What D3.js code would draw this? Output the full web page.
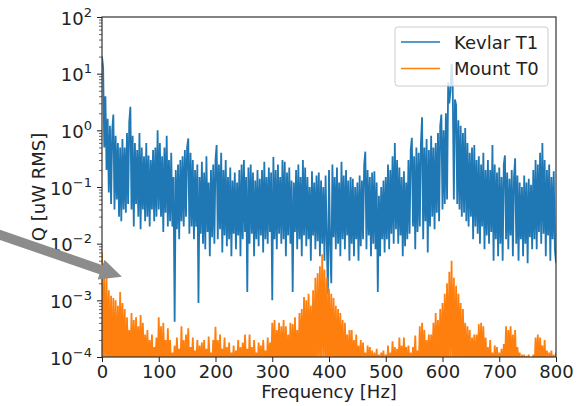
<!DOCTYPE html>
<html>
<head>
<meta charset="utf-8">
<script src="https://cdn.jsdelivr.net/npm/d3@7"></script>
<style>
  body { margin: 0; background: #fff; }
  text { font-family: "DejaVu Sans", sans-serif; fill: #222; }
</style>
</head>
<body>
<div id="chart"></div>
<script type="text/javascript">

      // spectrum samples, one every freqStep Hz starting at 0 Hz (one row = 20 Hz)
      var freqStep = 2;

      var kevlarT1 = [
        20, 13, 0.5, 4, 0.2, 1.6, 0.08, 1.2, 0.05, 1.0,
        1.9, 0.04, 0.8, 0.06, 0.6, 0.03, 0.5, 0.025, 0.7, 0.04,
        0.5, 0.035, 0.9, 0.05, 1.4, 2.6, 0.04, 0.8, 0.02, 0.6,
        0.05, 0.45, 0.03, 0.9, 0.018, 0.5, 0.04, 0.35, 0.025, 0.6,
        0.03, 0.36, 0.02, 0.3, 0.04, 0.45, 0.025, 0.5, 0.03, 1.0,
        0.04, 0.6, 0.03, 0.35, 0.016, 0.5, 0.035, 0.8, 0.02, 0.3,
        0.025, 0.4, 0.02, 0.15, 0.00042, 0.2, 0.018, 0.25, 0.012, 0.3,
        0.025, 0.35, 0.02, 0.45, 0.03, 0.5, 0.72, 0.015, 0.4, 0.02,
        0.3, 0.012, 0.2, 0.02, 0.25, 0.0009, 0.15, 0.015, 0.28, 0.01,
        0.18, 0.008, 0.35, 0.016, 0.12, 0.006, 0.2, 0.013, 0.25, 0.01,
        0.3, 0.55, 0.012, 0.25, 0.018, 0.4, 0.007, 0.2, 0.014, 0.3,
        0.009, 0.15, 0.012, 0.22, 0.006, 0.13, 0.015, 0.18, 0.008, 0.12,
        0.014, 0.2, 0.006, 0.25, 0.012, 0.3, 0.016, 0.15, 0.0014, 0.22,
        0.01, 0.25, 0.015, 0.18, 0.006, 0.13, 0.012, 0.2, 0.009, 0.14,
        0.014, 0.2, 0.007, 0.28, 0.012, 0.15, 0.01, 0.22, 0.016, 0.18,
        0.001, 0.34, 0.012, 0.2, 0.008, 0.25, 0.015, 0.15, 0.01, 0.3,
        0.012, 0.28, 0.006, 0.18, 0.014, 0.22, 0.01, 0.13, 0.0014, 0.12,
        0.016, 0.2, 0.008, 0.25, 0.012, 0.15, 0.006, 0.3, 0.014, 0.22,
        0.009, 0.15, 0.012, 0.1, 0.005, 0.19, 0.014, 0.12, 0.008, 0.16,
        0.011, 0.18, 0.006, 0.13, 0.01, 0.1, 0.005, 0.16, 0.012, 0.0013,
        0.2, 0.01, 0.002, 0.25, 0.013, 0.15, 0.008, 0.22, 0.01, 0.12,
        0.006, 0.28, 0.012, 0.16, 0.008, 0.2, 0.014, 0.13, 0.005, 0.15,
        0.01, 0.14, 0.006, 0.1, 0.012, 0.12, 0.005, 0.16, 0.009, 0.13,
        0.012, 0.25, 0.42, 0.008, 0.2, 0.014, 0.15, 0.006, 0.18, 0.01,
        0.19, 0.008, 0.12, 0.0014, 0.07, 0.006, 0.1, 0.012, 0.13, 0.007,
        0.15, 0.012, 0.25, 0.008, 0.2, 0.015, 0.35, 0.01, 0.6, 0.018,
        0.3, 0.01, 0.22, 0.014, 0.15, 0.006, 0.19, 0.009, 0.12, 0.012,
        0.3, 0.015, 0.45, 0.74, 0.02, 0.35, 0.008, 0.5, 0.016, 0.4,
        0.02, 0.6, 1.7, 0.012, 0.5, 0.025, 0.7, 0.007, 0.45, 0.02,
        0.8, 0.03, 0.5, 0.018, 0.6, 0.035, 0.9, 0.025, 1.2, 1.9,
        0.04, 1.0, 0.05, 2.0, 0.06, 7, 3, 5, 15, 6,
        0.06, 3.5, 2.8, 0.05, 1.5, 0.04, 1.2, 0.03, 0.9, 0.035,
        1.1, 0.025, 0.6, 0.02, 0.4, 0.03, 0.5, 0.012, 0.55, 0.02,
        0.3, 0.015, 0.35, 0.01, 0.25, 0.02, 0.4, 0.008, 0.2, 0.014,
        0.3, 0.01, 0.2, 0.016, 0.55, 0.005, 0.25, 0.012, 0.18, 0.006,
        0.22, 0.01, 0.15, 0.005, 0.25, 0.36, 0.012, 0.18, 0.008, 0.14,
        0.014, 0.2, 0.006, 0.15, 0.32, 0.01, 0.16, 0.005, 0.12, 0.012,
        0.1, 0.006, 0.16, 0.01, 0.12, 0.0045, 0.14, 0.013, 0.11, 0.008,
        0.2, 0.012, 0.3, 0.008, 0.25, 0.016, 0.4, 0.01, 0.6, 0.015,
        0.3, 0.006, 0.2, 0.014, 0.25, 0.005, 0.15, 0.012, 0.19, 0.008,
        0.0046
      ];

      var mountT0 = [
        7e-3, 5e-5, 3e-3, 6e-5, 2.5e-3, 5e-5, 1.5e-3, 7e-5, 1.2e-3, 5e-5,
        1.1e-3, 6e-5, 1e-3, 5e-5, 8e-4, 7e-5, 1.4e-3, 5e-5, 9e-4, 6e-5,
        7e-4, 5e-5, 5e-4, 8e-5, 3e-4, 5e-5, 6e-4, 6e-5, 4.5e-4, 5e-5,
        5e-4, 7e-5, 3.5e-4, 5e-5, 5.5e-4, 6e-5, 4e-4, 5e-5, 2.5e-4, 7e-5,
        3e-4, 5e-5, 2e-4, 6e-5, 2.5e-4, 5e-5, 1.5e-4, 8e-5, 2.2e-4, 5e-5,
        5e-4, 6e-5, 3.5e-4, 5e-5, 4e-4, 7e-5, 2e-4, 5e-5, 3.2e-4, 6e-5,
        2e-4, 5e-5, 1.2e-4, 7e-5, 1.6e-4, 5e-5, 2.2e-4, 6e-5, 1.4e-4, 5e-5,
        3.5e-4, 6e-5, 2e-4, 5e-5, 2.5e-4, 8e-5, 3.2e-4, 5e-5, 1.5e-4, 6e-5,
        2.2e-4, 5e-5, 1.3e-4, 7e-5, 2e-4, 5e-5, 1.6e-4, 6e-5, 1.8e-4, 5e-5,
        2e-4, 6e-5, 1.4e-4, 5e-5, 2.3e-4, 7e-5, 1.2e-4, 5e-5, 2e-4, 6e-5,
        3.4e-4, 5e-5, 2e-4, 6e-5, 2.5e-4, 5e-5, 1.4e-4, 8e-5, 2.2e-4, 5e-5,
        1.5e-4, 6e-5, 1.8e-4, 5e-5, 1.2e-4, 7e-5, 1.6e-4, 5e-5, 1.3e-4, 6e-5,
        2e-4, 5e-5, 1.5e-4, 6e-5, 1.8e-4, 5e-5, 2.5e-4, 7e-5, 1.4e-4, 5e-5,
        2.5e-4, 6e-5, 1.5e-4, 5e-5, 2e-4, 8e-5, 1.2e-4, 5e-5, 1.8e-4, 6e-5,
        1.6e-4, 5e-5, 2e-4, 7e-5, 1.3e-4, 5e-5, 2.2e-4, 6e-5, 1.8e-4, 5e-5,
        4e-4, 6e-5, 4.5e-4, 5e-5, 3e-4, 8e-5, 4e-4, 5e-5, 3.5e-4, 6e-5,
        4.5e-4, 5e-5, 3.5e-4, 7e-5, 2.5e-4, 5e-5, 4e-4, 6e-5, 3.8e-4, 5e-5,
        5e-4, 6e-5, 3e-4, 5e-5, 6e-4, 8e-5, 7e-4, 5e-5, 1.15e-3, 6e-5,
        1e-3, 5e-5, 1.3e-3, 7e-5, 8e-4, 5e-5, 1.5e-3, 6e-5, 2.5e-3, 5e-5,
        3e-3, 6e-5, 4e-3, 5e-5, 6.5e-3, 8e-5, 3.5e-3, 5e-5, 2.5e-3, 6e-5,
        1.6e-3, 5e-5, 1.3e-3, 7e-5, 1.1e-3, 5e-5, 8e-4, 6e-5, 7e-4, 5e-5,
        6e-4, 6e-5, 4.5e-4, 5e-5, 4e-4, 8e-5, 2.5e-4, 5e-5, 3e-4, 6e-5,
        3e-4, 5e-5, 2e-4, 7e-5, 2.5e-4, 5e-5, 1.6e-4, 6e-5, 2e-4, 5e-5,
        1.8e-4, 6e-5, 1.2e-4, 5e-5, 1.6e-4, 7e-5, 1.5e-4, 5e-5, 1.3e-4, 6e-5,
        1.2e-4, 5e-5, 1.4e-4, 6e-5, 1.1e-4, 5e-5, 1.2e-4, 8e-5, 1.3e-4, 5e-5,
        1.1e-4, 6e-5, 1.6e-4, 5e-5, 1.2e-4, 7e-5, 1.9e-4, 5e-5, 1.5e-4, 6e-5,
        1.4e-4, 5e-5, 2.2e-4, 6e-5, 1.6e-4, 5e-5, 2.2e-4, 8e-5, 1.5e-4, 5e-5,
        1.6e-4, 6e-5, 1.2e-4, 5e-5, 1.5e-4, 7e-5, 2.4e-4, 5e-5, 1.3e-4, 6e-5,
        3.5e-4, 5e-5, 4e-4, 6e-5, 3e-4, 5e-5, 2e-4, 8e-5, 2.5e-4, 5e-5,
        2.5e-4, 6e-5, 4e-4, 5e-5, 6e-4, 7e-5, 4.5e-4, 5e-5, 7e-4, 6e-5,
        9e-4, 5e-5, 1.3e-3, 6e-5, 2e-3, 5e-5, 3.2e-3, 8e-5, 5e-3, 5e-5,
        2.5e-3, 6e-5, 1.8e-3, 5e-5, 1.3e-3, 7e-5, 9e-4, 5e-5, 7e-4, 6e-5,
        4e-4, 5e-5, 3.5e-4, 6e-5, 3e-4, 5e-5, 2.2e-4, 8e-5, 2.5e-4, 5e-5,
        2.5e-4, 6e-5, 3.8e-4, 5e-5, 4e-4, 7e-5, 3.5e-4, 5e-5, 2.2e-4, 6e-5,
        1.5e-4, 5e-5, 2e-4, 6e-5, 1.2e-4, 5e-5, 1.6e-4, 8e-5, 1.5e-4, 5e-5,
        1.2e-4, 6e-5, 1.4e-4, 5e-5, 1.7e-4, 7e-5, 3.5e-4, 5e-5, 3e-4, 6e-5,
        3.5e-4, 5e-5, 2.5e-4, 6e-5, 3e-4, 5e-5, 1.5e-4, 8e-5, 1.2e-4, 5e-5,
        1.1e-4, 6e-5, 1.1e-4, 5e-5, 1.05e-4, 7e-5, 1.1e-4, 5e-5, 9e-5, 6e-5,
        1.1e-4, 5e-5, 2.2e-4, 6e-5, 2.5e-4, 5e-5, 2.2e-4, 8e-5, 1.6e-4, 5e-5,
        2e-4, 6e-5, 1.3e-4, 5e-5, 1.2e-4, 7e-5, 1.3e-4, 5e-5, 1.1e-4, 6e-5,
        1.2e-4
      ];

      var seriesNames = ["Kevlar T1", "Mount T0"];
      var colors = ["#1f77b4", "#ff7f0e"];
      var xTicks = [0, 100, 200, 300, 400, 500, 600, 700, 800];
      var yExponents = [-4, -3, -2, -1, 0, 1, 2];
      var xLabel = "Frequency [Hz]";
      var yLabel = "Q [uW RMS]";
      var arrowTip = {freq: 35, q: 2.6e-3};

      var w = 583, h = 406;
      var margin = {top: 17, right: 27, bottom: 49, left: 102};

      var svg = d3.select("#chart")
                  .append("svg")
                  .attr("width", w)
                  .attr("height", h);

      var x = d3.scaleLinear().domain([0, 800]).range([margin.left, w - margin.right]);
      var y = d3.scaleLog().domain([1e-4, 1e2]).range([h - margin.bottom, margin.top]);

      svg.append("clipPath").attr("id", "plotclip")
         .append("rect")
         .attr("x", margin.left).attr("y", margin.top)
         .attr("width", x.range()[1] - margin.left)
         .attr("height", y.range()[0] - margin.top);

      var line = d3.line()
                   .x(function(d, i) { return x(i * freqStep); })
                   .y(function(d) { return y(d); });

      var plot = svg.append("g").attr("clip-path", "url(#plotclip)");
      [kevlarT1, mountT0].forEach(function(s, k) {
        plot.append("path")
            .datum(s)
            .attr("d", line)
            .attr("fill", "none")
            .attr("stroke", colors[k])
            .attr("stroke-width", 1.8);
      });

      // frame
      svg.append("rect")
         .attr("x", margin.left).attr("y", margin.top)
         .attr("width", x.range()[1] - margin.left)
         .attr("height", y.range()[0] - margin.top)
         .attr("fill", "none").attr("stroke", "#333").attr("stroke-width", 1.2);

      // x axis
      var gx = svg.append("g")
                  .attr("transform", "translate(0," + y.range()[0] + ")")
                  .call(d3.axisBottom(x).tickValues(xTicks).tickSize(5).tickPadding(3));
      gx.select(".domain").remove();
      gx.selectAll("text").style("font-size", "18px");

      // y axis, minor then major
      var minor = y.ticks().filter(function(v) {
        return Math.abs(Math.log10(v) - Math.round(Math.log10(v))) > 1e-6;
      });
      var gym = svg.append("g")
                   .attr("transform", "translate(" + margin.left + ",0)")
                   .call(d3.axisLeft(y).tickValues(minor).tickSize(3).tickFormat(""));
      gym.select(".domain").remove();
      gym.selectAll("line").attr("stroke-width", 0.7);

      var gy = svg.append("g")
                  .attr("transform", "translate(" + margin.left + ",0)")
                  .call(d3.axisLeft(y)
                    .tickValues(yExponents.map(function(e) { return Math.pow(10, e); }))
                    .tickSize(5).tickPadding(5).tickFormat(""));
      gy.select(".domain").remove();
      gy.selectAll("text").each(function(d) {
        var t = d3.select(this).attr("dy", "0.4em").style("font-size", "18px");
        t.append("tspan").text("10");
        var e = Math.round(Math.log10(d));
        t.append("tspan").attr("dy", -8).style("font-size", "13px")
         .text(e < 0 ? "\u2212" + (-e) : e);
      });

      svg.selectAll(".tick line").attr("stroke", "#222");

      // axis labels
      svg.append("text")
         .attr("x", (x.range()[0] + x.range()[1]) / 2)
         .attr("y", 398)
         .attr("text-anchor", "middle")
         .style("font-size", "18px")
         .text(xLabel);

      svg.append("text")
         .attr("transform", "translate(45," + (y.range()[0] + y.range()[1]) / 2 + ") rotate(-90)")
         .attr("text-anchor", "middle")
         .style("font-size", "18px")
         .text(yLabel);

      // legend
      var lg = svg.append("g").attr("transform", "translate(395,27)");
      lg.append("rect")
        .attr("width", 153).attr("height", 59).attr("rx", 3)
        .attr("fill", "#fff").attr("fill-opacity", 0.8)
        .attr("stroke", "#ccc").attr("stroke-width", 1);
      seriesNames.forEach(function(n, k) {
        var ly = 15 + k * 26.5;
        lg.append("line")
          .attr("x1", 6).attr("x2", 45).attr("y1", ly).attr("y2", ly)
          .attr("stroke", colors[k]).attr("stroke-width", 1.6);
        lg.append("text")
          .attr("x", 59).attr("y", ly + 6.5)
          .style("font-size", "18px")
          .text(n);
      });

      // grey pointer arrow coming in from the left edge
      var tip = [x(arrowTip.freq), y(arrowTip.q)];
      var ux = 0.945, uy = 0.325, nx = -uy, ny = ux;
      var len = 140, headLen = 22, shaftHalf = 4.8, headHalf = 10.5;
      function pt(a, b) { return [tip[0] - ux * a + nx * b, tip[1] - uy * a + ny * b]; }
      svg.append("polygon")
         .attr("points", [pt(len, -shaftHalf), pt(headLen, -shaftHalf), pt(headLen, -headHalf),
                          tip, pt(headLen, headHalf), pt(headLen, shaftHalf), pt(len, shaftHalf)]
                          .map(function(p) { return p.join(","); }).join(" "))
         .attr("fill", "#8c8c8c");

</script>
</body>
</html>
